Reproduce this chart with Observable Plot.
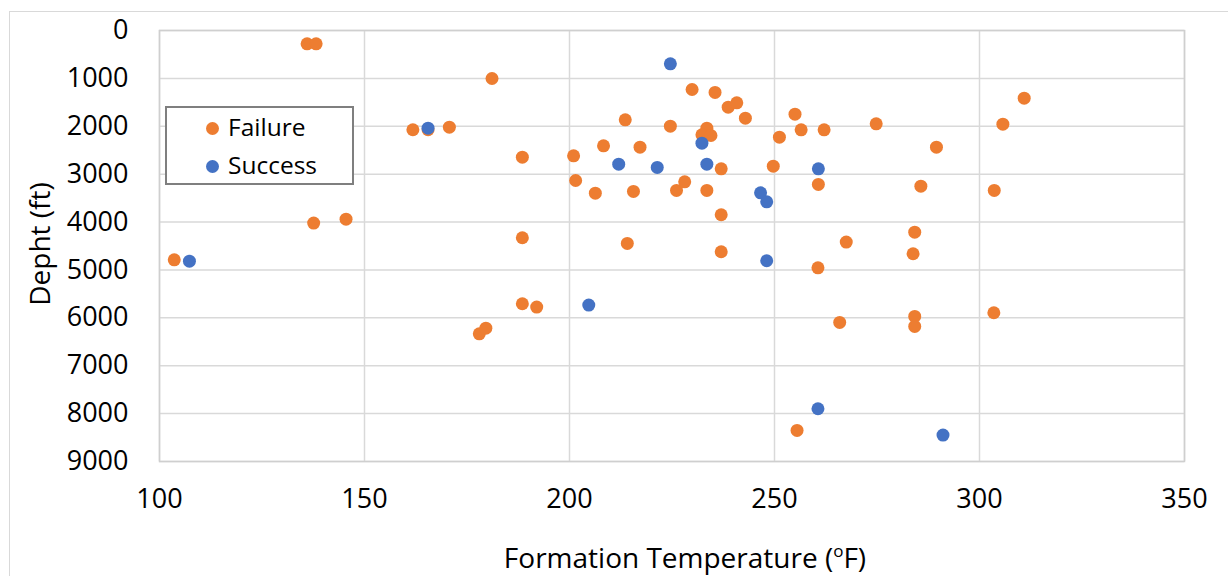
<!DOCTYPE html>
<html>
<head>
<meta charset="utf-8">
<script src="https://cdn.jsdelivr.net/npm/d3@7"></script>
<script src="https://cdn.jsdelivr.net/npm/@observablehq/plot@0.6"></script>
<style>
  html, body { margin: 0; padding: 0; background: #fff; }
  #wrap { position: relative; width: 1228px; height: 576px; overflow: hidden; font-family: "Open Sans", sans-serif; }
  #outer { position: absolute; left: 9px; top: 11px; width: 1400px; height: 800px; border: 1.5px solid #d9d9d9; pointer-events: none; }
  #legend { position: absolute; left: 165px; top: 106px; width: 185px; height: 75px; border: 2px solid #7f7f7f; background: #fff; }
  .item { position: absolute; left: 0; font-size: 24.5px; color: #000; line-height: 1; }
  .sw { position: absolute; width: 13px; height: 13px; border-radius: 50%; }
  .lab { position: absolute; white-space: nowrap; }
</style>
</head>
<body>
<div id="wrap"><div id="outer"></div><div id="chart"></div><div id="legend"></div></div>
<script>
// Failure series
const failureTemp = [136.0, 138.2, 181.1, 161.8, 165.5, 170.7, 137.6, 145.5, 188.5, 188.5,
  103.6, 188.5, 178.0, 179.6, 229.9, 235.5, 238.7, 240.8, 242.9, 255.0,
  256.5, 262.1, 274.8, 251.2, 213.6, 224.6, 233.5, 232.3, 234.5, 208.3,
  217.2, 201.0, 237.0, 249.7, 260.7, 201.5, 206.3, 215.6, 226.1, 228.1,
  233.5, 237.0, 285.7, 214.1, 267.5, 284.2, 310.9, 305.7, 289.5, 303.6,
  237.0, 260.6, 283.8, 192.0, 265.9, 284.2, 284.2, 255.5, 303.5];
const failureDepth = [278, 278, 1002, 2073, 2070, 2018, 4022, 3939, 2645, 4328,
  4788, 5706, 6333, 6215, 1232, 1294, 1601, 1510, 1831, 1747,
  2074, 2074, 1949, 2227, 1865, 1997, 2040, 2178, 2192, 2408,
  2436, 2617, 2888, 2833, 3215, 3132, 3396, 3361, 3340, 3159,
  3340, 3848, 3250, 4447, 4419, 4211, 1413, 1956, 2436, 3340,
  4620, 4955, 4662, 5776, 6096, 5971, 6180, 8351, 5894];
// Success series
const successTemp = [165.5, 107.3, 224.6, 232.3, 212.0, 221.4, 233.5, 260.7, 246.6, 248.1,
  248.1, 204.7, 260.6, 291.1];
const successDepth = [2040, 4816, 696, 2352, 2791, 2860, 2791, 2888, 3389, 3577,
  4808, 5734, 7898, 8448];

const xTicks = [100, 150, 200, 250, 300, 350];
const yTicks = [0, 1000, 2000, 3000, 4000, 5000, 6000, 7000, 8000, 9000];
const seriesNames = ["Failure", "Success"];
const seriesColors = ["#ED7D31", "#4472C4"];
const xTitle = ["Formation Temperature (", "o", "F)"];
const yTitle = "Depht (ft)";

const failure = failureTemp.map((t, i) => ({temp: t, depth: failureDepth[i]}));
const success = successTemp.map((t, i) => ({temp: t, depth: successDepth[i]}));

const chart = Plot.plot({
  width: 1228,
  height: 576,
  marginLeft: 159,
  marginRight: 44,
  marginTop: 30,
  marginBottom: 115,
  style: {fontFamily: "Open Sans, sans-serif", fontSize: "27px", color: "#000", background: "transparent", overflow: "visible"},
  x: {domain: [100, 350], ticks: xTicks, tickSize: 0, tickPadding: 27, tickFormat: d => String(d), label: null},
  y: {domain: [0, 9000], reverse: true, ticks: yTicks, tickSize: 0, tickPadding: 31, tickFormat: d => String(d), label: null},
  marks: [
    Plot.ruleX(xTicks, {stroke: "#d9d9d9", strokeWidth: 1.5}),
    Plot.ruleY(yTicks, {stroke: "#d9d9d9", strokeWidth: 1.5}),
    Plot.frame({stroke: "#cfcfcf", strokeWidth: 1.5}),
    Plot.dot(failure, {x: "temp", y: "depth", r: 6.5, fill: seriesColors[0], stroke: "none"}),
    Plot.dot(success, {x: "temp", y: "depth", r: 6.5, fill: seriesColors[1], stroke: "none"})
  ]
});
document.getElementById("chart").appendChild(chart);

// axis titles
const svg = d3.select(chart);
const xt = svg.append("text")
  .attr("x", 685).attr("y", 568)
  .attr("text-anchor", "middle")
  .attr("font-size", 28).attr("fill", "#000")
  .attr("font-family", "Open Sans, sans-serif");
xt.append("tspan").text(xTitle[0]);
xt.append("tspan").attr("font-size", 17).attr("dy", -11).text(xTitle[1]);
xt.append("tspan").attr("dy", 11).text(xTitle[2]);

svg.append("text")
  .attr("transform", "translate(39,244) rotate(-90)")
  .attr("text-anchor", "middle")
  .attr("dominant-baseline", "central")
  .attr("font-size", 28).attr("fill", "#000")
  .attr("font-family", "Open Sans, sans-serif")
  .text(yTitle);

// legend
const legend = document.getElementById("legend");
const rowsY = [20, 58];
seriesNames.forEach((name, i) => {
  const sw = document.createElement("div");
  sw.className = "sw";
  sw.style.background = seriesColors[i];
  sw.style.left = (45 - 6.5) + "px";
  sw.style.top = (rowsY[i] - 6.5) + "px";
  legend.appendChild(sw);
  const lab = document.createElement("div");
  lab.className = "lab item";
  lab.style.left = "61px";
  lab.style.top = (rowsY[i] - 13) + "px";
  lab.textContent = name;
  legend.appendChild(lab);
});
</script>
</body>
</html>
